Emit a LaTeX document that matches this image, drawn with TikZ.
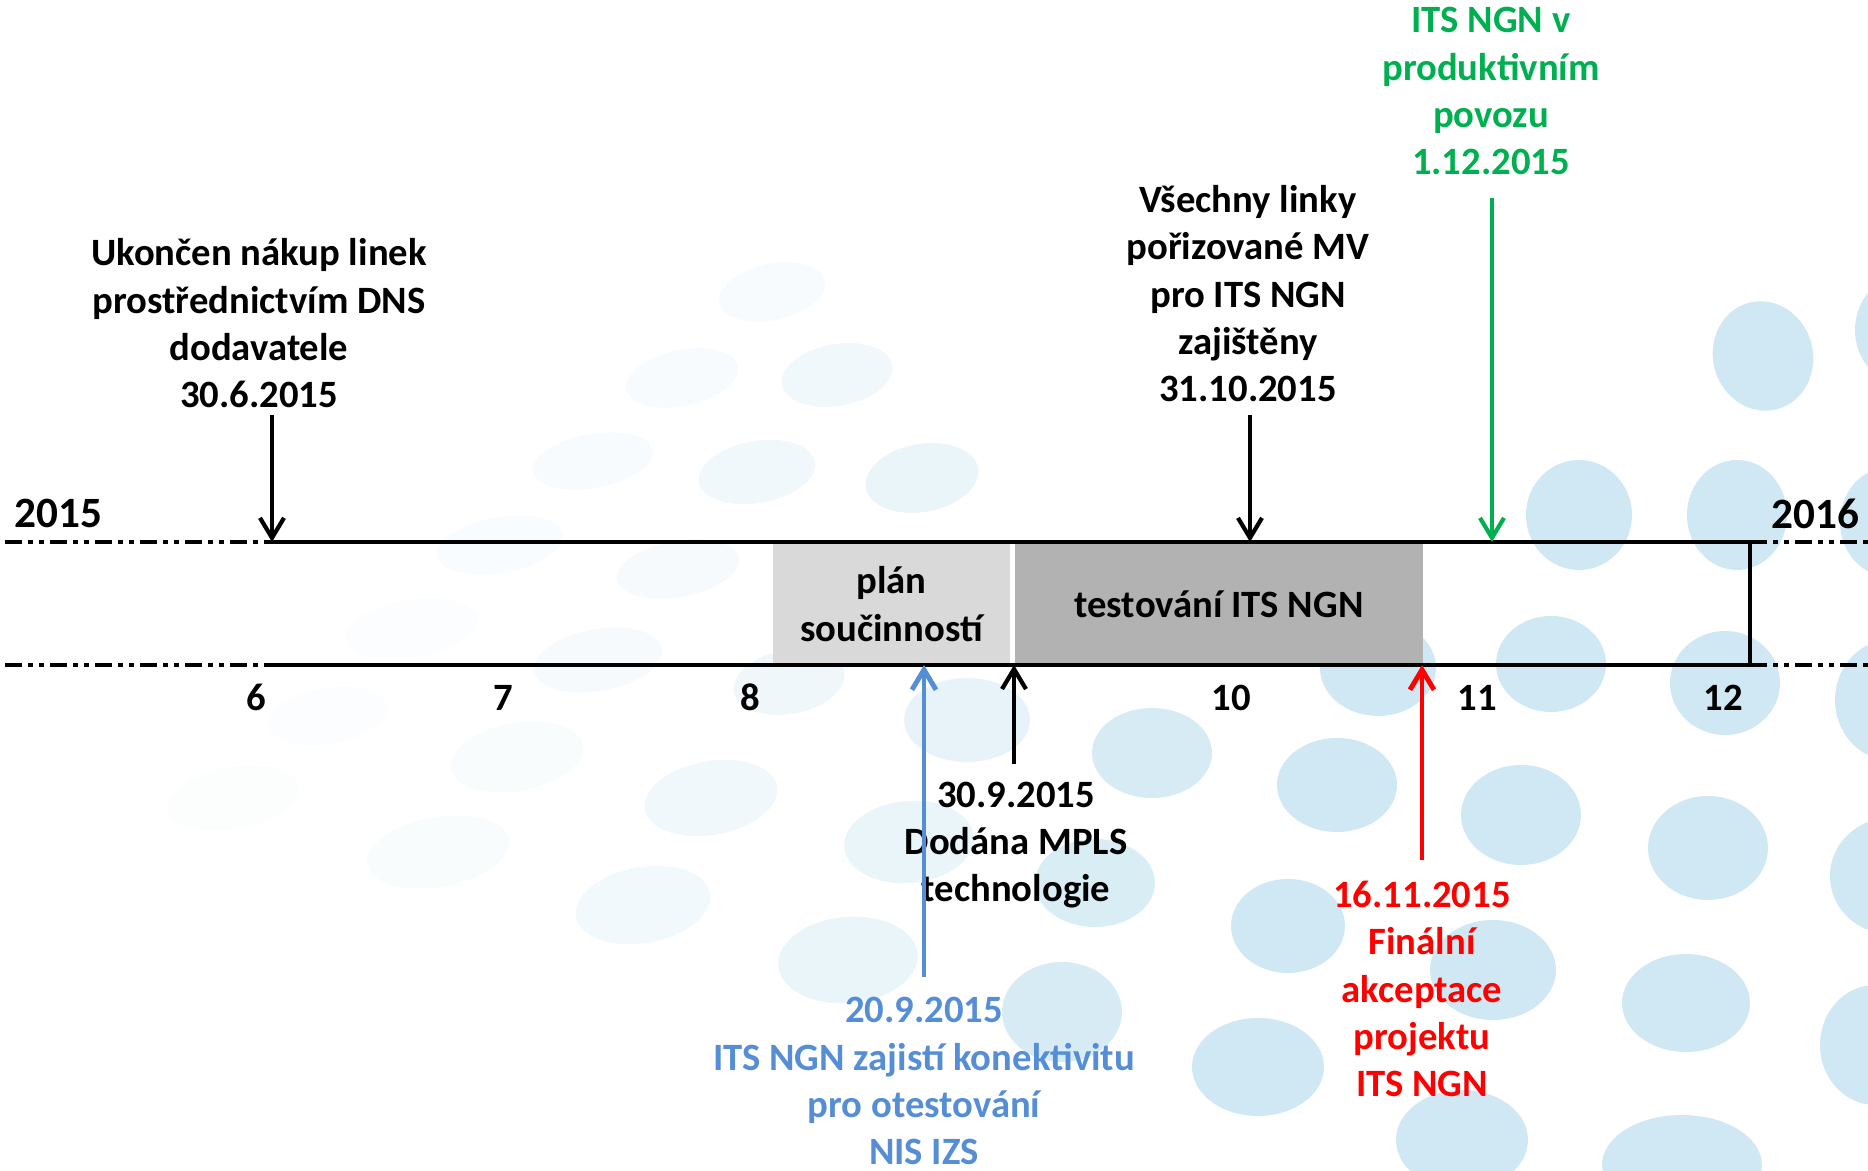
\documentclass[tikz,border=0pt]{standalone}
\usepackage{fontspec}
\setmainfont{Carlito}
\usetikzlibrary{arrows.meta}
\definecolor{bgblue}{RGB}{208,232,243}
\definecolor{mygreen}{RGB}{0,176,80}
\definecolor{myblue}{RGB}{85,142,213}
\definecolor{myred}{RGB}{255,0,0}
\definecolor{lgray}{RGB}{217,217,217}
\definecolor{dgray}{RGB}{178,178,178}
\begin{document}
\begin{tikzpicture}[x=0.01cm,y=-0.01cm,
  lbl/.style={font=\fontsize{11}{13.5}\selectfont\bfseries, align=center, inner sep=0pt, anchor=base},
  yr/.style={font=\fontsize{12.3}{14}\selectfont\bfseries, inner sep=0pt, anchor=base west},
  arr/.style={line width=1.2pt, -{Straight Barb[length=0.2cm,width=0.24cm]}},
  axisline/.style={line width=1.2pt},
  dd/.style={line width=1.2pt, dash pattern=on 0.17cm off 0.06cm on 0.05cm off 0.06cm on 0.05cm off 0.06cm},
  phase/.style={fill=#1, draw=none, inner sep=0pt, align=center, font=\fontsize{11}{13.5}\selectfont\bfseries}
]
\useasboundingbox (0,0) rectangle (1868,1171);
% background blobs
\foreach \x/\y/\a/\b/\r/\o in {
  1763/356/50/55/15/1, 1579/515/53/55/0/1, 1737/515/50/55/0/1, 1890/522/50/55/0/1,
  1905/330/50/55/0/1, 1551/664/55/48/0/1, 1725/683/55/52/0/1, 1378/668/58/48/0/1,
  1890/700/55/60/0/1, 1152/753/60/45/0/0.85, 1337/785/60/47/0/1, 1521/815/60/50/0/1,
  1708/848/60/52/0/1, 1890/876/60/58/0/1, 1095/883/60/44/0/0.8, 1288/926/57/47/0/1,
  1493/970/63/50/0/1, 1686/1003/64/49/0/1, 1875/1045/55/60/0/1, 1062/1012/60/50/0/0.85,
  1258/1067/66/49/0/1, 1462/1140/66/50/0/1, 1682/1165/80/50/0/1,
  967/720/63/42/0/0.5, 909/842/65/41/5/0.45, 848/960/70/43/5/0.45, 922/478/57/34/10/0.45,
  789/682/56/32/10/0.35, 757/472/59/31/10/0.3, 837/375/56/31/10/0.3, 711/798/67/37/10/0.3,
  643/905/68/38/10/0.28, 678/569/62/28/10/0.2, 598/660/65/31/10/0.2,
  772/292/54/28/12/0.18, 682/378/57/28/12/0.18, 593/461/61/27/10/0.17, 500/545/64/28/10/0.12,
  517/757/67/34/10/0.15, 438/852/72/35/10/0.13, 411/629/67/29/10/0.09, 328/716/60/28/10/0.08,
  233/798/67/31/10/0.06}{
  \fill[bgblue, opacity=\o, shift={(\x,\y)}, rotate=\r] (0,0) ellipse [x radius=\a, y radius=\b];
}
% phase boxes
\node[phase=lgray, minimum width=2.37cm, minimum height=1.2cm] (plan) at (891.5,604) {plán\\součinností};
\node[phase=dgray, minimum width=4.07cm, minimum height=1.2cm] (test) at (1219,604) {testování ITS NGN};
% axis
\coordinate (tl0) at (5,542);   \coordinate (tl1) at (268,542);
\coordinate (tr1) at (1750,542); \coordinate (tr0) at (1868,542);
\coordinate (bl0) at (5,665);   \coordinate (bl1) at (268,665);
\coordinate (br1) at (1750,665); \coordinate (br0) at (1868,665);
\draw[axisline] (tl1) -- (tr1) -- (br1) -- (bl1);
\draw[dd] (tl0) -- (tl1);
\draw[dd] (bl0) -- (bl1);
\draw[dd] (tr1) -- (tr0);
\draw[dd] (br1) -- (br0);
% years and months
\node[yr] (y15) at (14,528) {2015};
\node[yr] (y16) at (1771,529) {2016};
\node[lbl] (m6) at (256,711) {6};
\node[lbl] (m7) at (503,711) {7};
\node[lbl] (m8) at (750,711) {8};
\node[lbl] (m10) at (1231,711) {10};
\node[lbl] (m11) at (1477,711) {11};
\node[lbl] (m12) at (1723,711) {12};
% texts (anchor = baseline of the last line)
\node[lbl] (t1) at (259,408) {Ukončen nákup linek\\prostřednictvím DNS\\dodavatele\\30.6.2015};
\node[lbl] (t2) at (1248,402) {Všechny linky\\pořizované MV\\pro ITS NGN\\zajištěny\\31.10.2015};
\node[lbl, text=mygreen] (t3) at (1491,175) {ITS NGN v\\produktivním\\povozu\\1.12.2015};
\node[lbl] (t4) at (1016,902) {30.9.2015\\Dodána MPLS\\technologie};
\node[lbl, text=myblue] (t5) at (924,1165) {20.9.2015\\ITS NGN zajistí konektivitu\\pro otestování\\NIS IZS};
\node[lbl, text=myred] (t6) at (1422,1097) {16.11.2015\\Finální\\akceptace\\projektu\\ITS NGN};
% arrows
\coordinate (a1s) at (272,415);  \coordinate (a1e) at (272,542);
\coordinate (a2s) at (1250,415); \coordinate (a2e) at (1250,542);
\coordinate (a3s) at (1492,198); \coordinate (a3e) at (1492,542);
\coordinate (a4s) at (924,977);  \coordinate (a4e) at (924,665);
\coordinate (a5s) at (1014,764); \coordinate (a5e) at (1014,665);
\coordinate (a6s) at (1422,860); \coordinate (a6e) at (1422,665);
\draw[arr] (a1s) -- (a1e);
\draw[arr] (a2s) -- (a2e);
\draw[arr, mygreen] (a3s) -- (a3e);
\draw[arr, myblue, line width=1.4pt] (a4s) -- (a4e);
\draw[arr] (a5s) -- (a5e);
\draw[arr, myred, line width=1.4pt] (a6s) -- (a6e);
\end{tikzpicture}
\end{document}
